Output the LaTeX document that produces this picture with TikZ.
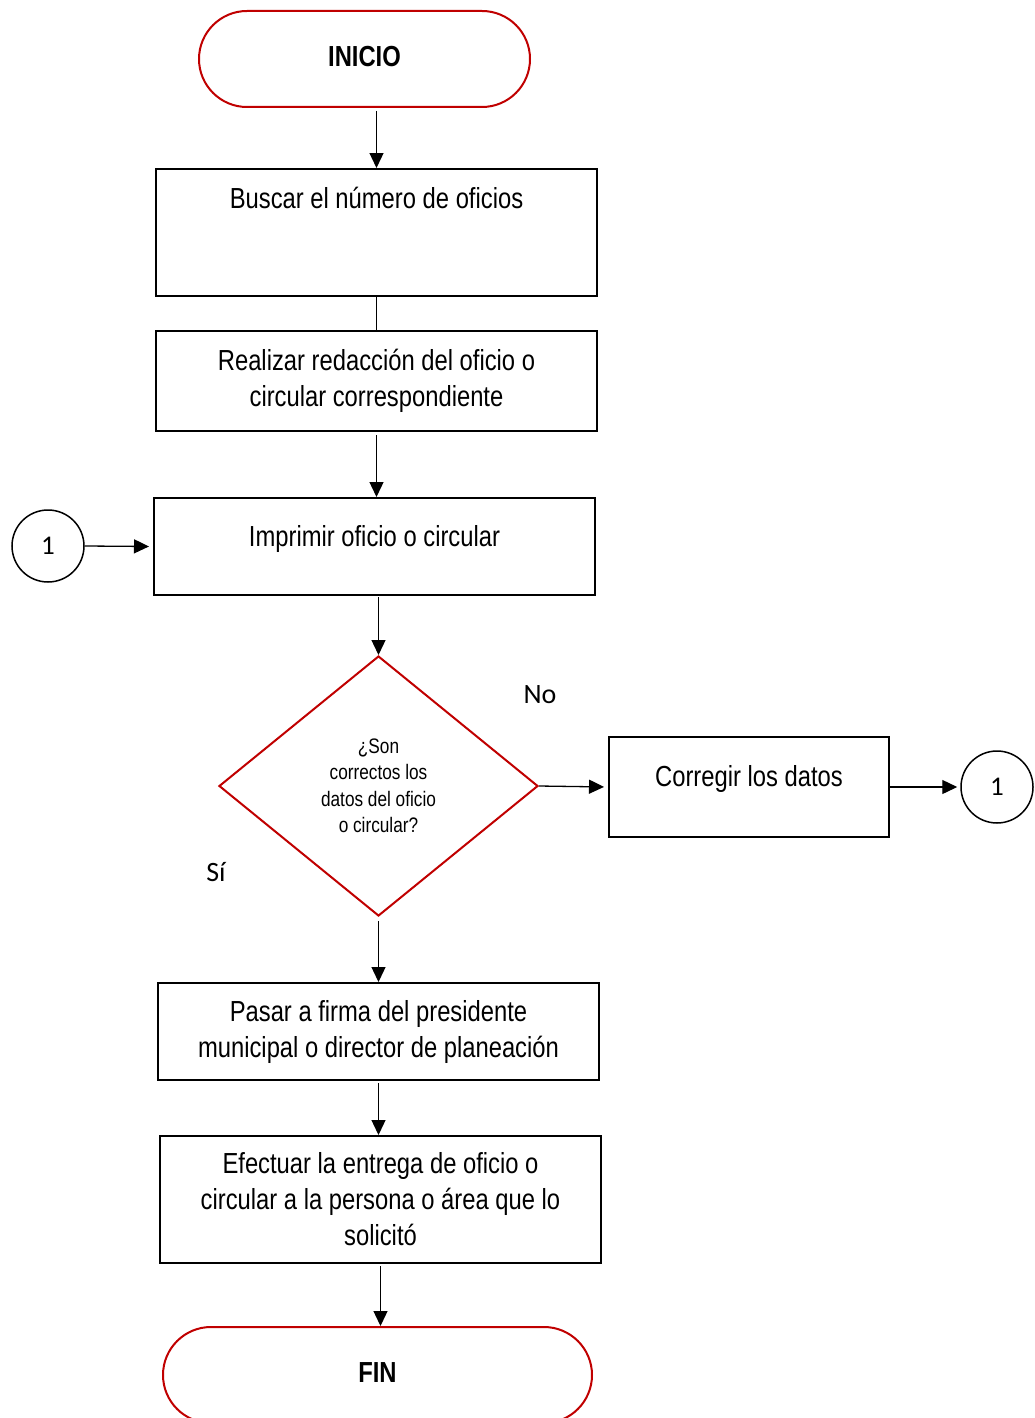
\documentclass[tikz,border=0pt]{standalone}
\usepackage{fontspec}
\setmainfont{Liberation Sans}
\newfontfamily\narrow[FakeStretch=0.82]{Liberation Sans}
\newfontfamily\carl{Carlito}
\usetikzlibrary{shapes.geometric,arrows.meta}
\definecolor{dred}{RGB}{192,0,0}
\begin{document}
\begin{tikzpicture}[x=1pt,y=-1pt,
 box/.style={draw=black,line width=2pt,inner sep=0pt,minimum width=441pt},
 term/.style={draw=dred,line width=2pt,rounded corners=48pt,minimum height=96pt,inner sep=0pt,font=\narrow\bfseries\fontsize{29}{34}\selectfont},
 txt/.style={font=\narrow\fontsize{29}{36}\selectfont,align=center},
 conn/.style={draw=black,line width=1.5pt,circle,minimum size=72pt,inner sep=0pt,font=\carl\fontsize{27}{30}\selectfont},
 arr/.style={line width=1.3pt,-{Triangle[length=15pt,width=14pt]}},
 lbl/.style={font=\carl\fontsize{28}{32}\selectfont}]
\useasboundingbox (0,0) rectangle (1034,1418);
\node[term,minimum width=331pt] (ini) at (364.5,59) {\raisebox{5pt}{INICIO}};
\node[box,minimum height=127pt] (b1) at (376.5,232.5) {};
\node[txt] (t1) at (376.5,198) {Buscar el número de oficios};
\node[box,minimum height=100pt,txt] (b2) at (376.5,381) {Realizar redacción del oficio o\\circular correspondiente};
\node[box,minimum height=97pt] (b3) at (374.5,546.5) {};
\node[txt] (t3) at (374.5,539) {Imprimir oficio o circular};
\node[conn] (c1) at (48,546) {\raisebox{-3pt}{1}};
\node[draw=dred,line width=2pt,diamond,minimum width=319pt,minimum height=260pt,inner sep=0pt,font=\narrow\fontsize{21}{26.5}\selectfont,align=center] (d) at (378.5,786) {¿Son\\correctos los\\datos del oficio\\o circular?};
\node[box,minimum width=280pt,minimum height=100pt] (b4) at (749,787) {};
\node[txt] (t4) at (749,779) {Corregir los datos};
\node[conn] (c2) at (997,787) {\raisebox{-3pt}{1}};
\node[box,minimum height=97pt,txt] (b5) at (378.5,1031.5) {Pasar a firma del presidente\\municipal o director de planeación};
\node[box,minimum height=127pt,txt] (b6) at (380.5,1199.5) {Efectuar la entrega de oficio o\\circular a la persona o área que lo\\solicitó};
\node[term,minimum width=429pt] (fin) at (377.5,1375) {\raisebox{5pt}{FIN}};
\node[lbl] (no) at (540,695) {No};
\node[lbl] (si) at (216,872) {Sí};
\draw[arr,shorten <=3pt] (b1.north |- ini.south) -- (b1.north);
\draw[line width=1.3pt] (b1.south) -- (b2.north);
\draw[arr,shorten <=3pt] (b2.south) -- (b2.south |- b3.north);
\draw[arr,shorten >=4pt] (c1.east) -- (b3.west);
\draw[arr,shorten <=1pt] (b3.south -| d.north) -- (d.north);
\draw[arr,shorten >=4pt] (d.east) -- (b4.west);
\draw[arr,shorten >=3pt] (b4.east) -- (c2.west);
\draw[arr,shorten <=4pt] (d.south) -- (d.south |- b5.north);
\draw[arr,shorten <=2pt] (b5.south) -- (b5.south |- b6.north);
\draw[arr,shorten <=2pt] (b6.south) -- (b6.south |- fin.north);
\end{tikzpicture}
\end{document}
